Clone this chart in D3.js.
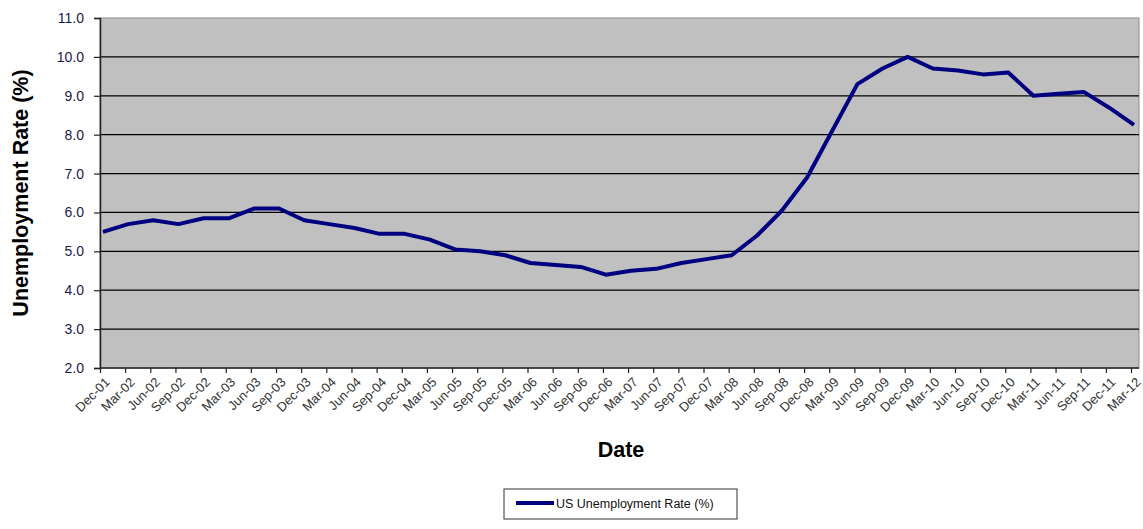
<!DOCTYPE html>
<html>
<head>
<meta charset="utf-8">
<script src="https://cdn.jsdelivr.net/npm/d3@7"></script>
<style>
  body { margin: 0; background: #fff; }
  svg { display: block; font-family: Arial, "Liberation Sans", sans-serif; }
</style>
</head>
<body>
<svg id="chart" width="1143" height="529"></svg>
<script>
// quarterly categories, Dec-01 .. Mar-12
const quarters = ['Dec-01', 'Mar-02', 'Jun-02', 'Sep-02', 'Dec-02', 'Mar-03', 'Jun-03', 'Sep-03',
  'Dec-03', 'Mar-04', 'Jun-04', 'Sep-04', 'Dec-04', 'Mar-05', 'Jun-05', 'Sep-05', 'Dec-05',
  'Mar-06', 'Jun-06', 'Sep-06', 'Dec-06', 'Mar-07', 'Jun-07', 'Sep-07', 'Dec-07', 'Mar-08',
  'Jun-08', 'Sep-08', 'Dec-08', 'Mar-09', 'Jun-09', 'Sep-09', 'Dec-09', 'Mar-10', 'Jun-10',
  'Sep-10', 'Dec-10', 'Mar-11', 'Jun-11', 'Sep-11', 'Dec-11', 'Mar-12'];

const unemployment = [5.5, 5.7, 5.8, 5.7, 5.85, 5.85, 6.1, 6.1, 5.8, 5.7, 5.6, 5.45, 5.45,
  5.3, 5.05, 5.0, 4.9, 4.7, 4.65, 4.6, 4.4, 4.5, 4.55, 4.7, 4.8, 4.9, 5.4, 6.05, 6.9, 8.1,
  9.3, 9.7, 10.0, 9.7, 9.65, 9.55, 9.6, 9.0, 9.05, 9.1, 8.7, 8.25];

const yTicks = [2, 3, 4, 5, 6, 7, 8, 9, 10, 11];

const seriesName = 'US Unemployment Rate (%)';

const data = quarters.map((q, i) => ({ q: q, v: unemployment[i] }));

const svg = d3.select('#chart');
const plotL = 100, plotR = 1139, plotT = 18, plotB = 368;

const x = d3.scalePoint().domain(quarters).range([103, 1134]);
const y = d3.scaleLinear().domain([2, 11]).range([plotB, plotT]);

// plot background
svg.append('rect')
  .attr('x', plotL).attr('y', plotT)
  .attr('width', plotR - plotL).attr('height', plotB - plotT)
  .attr('fill', '#c0c0c0')
  .attr('stroke', '#8c8c8c')
  .attr('stroke-width', 1);

// gridlines
svg.append('g')
  .selectAll('line').data(yTicks.filter(t => t > 2 && t < 11)).join('line')
  .attr('x1', plotL).attr('x2', plotR)
  .attr('y1', d => y(d)).attr('y2', d => y(d))
  .attr('stroke', '#000')
  .attr('stroke-width', 1.2);

// y axis
const yAxis = svg.append('g')
  .attr('transform', `translate(${plotL},0)`)
  .call(d3.axisLeft(y).tickValues(yTicks).tickFormat(d3.format('.1f')).tickSize(6).tickPadding(10));
yAxis.select('.domain').attr('stroke', '#222').attr('stroke-width', 1.5);
yAxis.selectAll('.tick line').attr('stroke', '#222').attr('stroke-width', 1.2);
yAxis.selectAll('text')
  .attr('font-size', 14)
  .attr('font-family', 'Arial, "Liberation Sans", sans-serif')
  .attr('fill', '#1a1a48');

// x axis
const xAxis = svg.append('g')
  .attr('transform', `translate(-3,${plotB})`)
  .call(d3.axisBottom(x).tickSize(5).tickSizeOuter(0));
xAxis.select('.domain').attr('stroke', '#222').attr('stroke-width', 1.5)
  .attr('d', `M${plotL + 3},0H${plotR + 3}`);
xAxis.selectAll('.tick line').attr('stroke', '#222').attr('stroke-width', 1.2);
xAxis.selectAll('text')
  .attr('font-size', 13)
  .attr('font-family', 'Arial, "Liberation Sans", sans-serif')
  .attr('fill', '#333')
  .attr('text-anchor', 'end')
  .attr('transform', 'translate(10,15) rotate(-45)')
  .attr('dx', 0)
  .attr('dy', 0)
  .attr('y', 0);

// line
const line = d3.line()
  .x(d => x(d.q))
  .y(d => y(d.v));

svg.append('path')
  .datum(data)
  .attr('d', line)
  .attr('fill', 'none')
  .attr('stroke', '#000080')
  .attr('stroke-width', 4)
  .attr('stroke-linejoin', 'round');

// axis titles
svg.append('text')
  .attr('transform', `translate(28,${(plotT + plotB) / 2}) rotate(-90)`)
  .attr('text-anchor', 'middle')
  .attr('font-size', 21.5)
  .attr('font-weight', 'bold')
  .text('Unemployment Rate (%)');

svg.append('text')
  .attr('x', 621)
  .attr('y', 457)
  .attr('text-anchor', 'middle')
  .attr('font-size', 21.5)
  .attr('font-weight', 'bold')
  .text('Date');

// legend
const legend = svg.append('g').attr('transform', 'translate(504,489)');
legend.append('rect')
  .attr('width', 233).attr('height', 30)
  .attr('fill', '#fff')
  .attr('stroke', '#333')
  .attr('stroke-width', 1);
legend.append('line')
  .attr('x1', 12).attr('x2', 50)
  .attr('y1', 14).attr('y2', 14)
  .attr('stroke', '#000080')
  .attr('stroke-width', 4);
legend.append('text')
  .attr('x', 52).attr('y', 19)
  .attr('font-size', 12.5)
  .attr('fill', '#111')
  .text(seriesName);
</script>
</body>
</html>
